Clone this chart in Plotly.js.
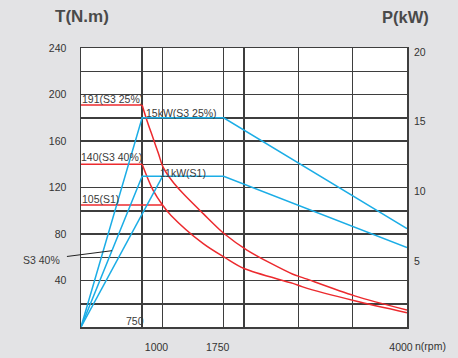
<!DOCTYPE html>
<html>
<head>
<meta charset="utf-8">
<script src="https://cdn.plot.ly/plotly-3.0.1.min.js"></script>
<style>html,body{margin:0;padding:0;background:#e3e3e5;}#chart{width:458px;height:358px;}</style>
</head>
<body>
<div id="chart"></div>
<script>
// ---- data ----
// Torque curves (N.m) vs speed (rpm)
const rpmS325T = [0, 750, 812, 882, 951, 1004, 1114, 1250, 1500, 1762, 2041, 2600, 2720, 3357, 4000];
const torqueS325 = [191, 191, 177, 163, 149, 138, 126, 115, 97.5, 80, 66, 45.4, 42.5, 26.8, 14.6];
const rpmS340T = [0, 750, 882, 1000, 1105, 1500, 1762, 2000, 2600, 2720, 3357, 4000];
const torqueS340 = [140, 140, 118, 105, 96, 71.7, 59.9, 50.3, 37.5, 34.5, 22.5, 12.3];
const rpmS1T = [0, 1000];
const torqueS1 = [105, 105];
// Power curves (kW) vs speed (rpm)
const rpmS325P = [0, 750, 1750, 4000];
const powerS325 = [0, 15, 15, 7.05];
const rpmS340P = [0, 750, 1750, 4000];
const powerS340 = [0, 10.8, 10.8, 5.7];
const rpmS1P = [0, 1000];
const powerS1 = [0, 10.8];
// axis ticks
const xTickVals = [1000, 1750, 4000];
const xTickText = ['1000', '1750', '4000'];
const xGridVals = [750, 2000, 2667, 3333];
const yTickVals = [40, 80, 120, 160, 200, 240];
const yMinorVals = [20, 60, 100, 140, 180, 220];
const y2TickVals = [5, 10, 15, 20];

const RED = '#ec2a2e', CYAN = '#1bade6';
const GRID = '#3e3e3e';
const TXT = '#3a3a3a';

const cyanLine = {color: CYAN, width: 1.5};
const redFlat = {color: RED, width: 1.5};
const redCurve = {color: RED, width: 1.5, shape: 'spline', smoothing: 0.9};

const traces = [
  {x: rpmS325P, y: powerS325, yaxis: 'y2', mode: 'lines', line: cyanLine},
  {x: rpmS340P, y: powerS340, yaxis: 'y2', mode: 'lines', line: cyanLine},
  {x: rpmS1P, y: powerS1, yaxis: 'y2', mode: 'lines', line: cyanLine},
  // flat (constant torque) parts
  {x: rpmS325T.slice(0, 2), y: torqueS325.slice(0, 2), mode: 'lines', line: redFlat},
  {x: rpmS340T.slice(0, 2), y: torqueS340.slice(0, 2), mode: 'lines', line: redFlat},
  {x: rpmS1T, y: torqueS1, mode: 'lines', line: redFlat},
  // falling parts
  {x: rpmS325T.slice(1), y: torqueS325.slice(1), mode: 'lines', line: redCurve},
  {x: rpmS340T.slice(1), y: torqueS340.slice(1), mode: 'lines', line: redCurve}
];

const ann = (text, x, y, extra) => Object.assign({text, x, y, showarrow: false, xanchor: 'left', yanchor: 'middle', font: {size: 10.5, color: TXT}}, extra || {});

const layout = {
  width: 458, height: 358,
  paper_bgcolor: '#e3e3e5', plot_bgcolor: '#ffffff',
  margin: {l: 81, r: 51, t: 48, b: 31, pad: 0},
  showlegend: false,
  font: {family: 'Liberation Sans, Arial, sans-serif', size: 10.5, color: '#333'},
  xaxis: {
    range: [0, 4000], tickmode: 'array', tickvals: xTickVals, ticktext: xTickText,
    showgrid: true, gridcolor: GRID, gridwidth: 1.5,
    minor: {tickmode: 'array', tickvals: xGridVals, showgrid: true, gridcolor: GRID, gridwidth: 1.5, ticks: ''},
    ticks: '', showline: true, mirror: true, linecolor: GRID, linewidth: 1.5, zeroline: false,
    ticklabelstandoff: 10, ticklabelshift: -6, fixedrange: true
  },
  yaxis: {
    range: [0, 240], tickmode: 'array', tickvals: yTickVals,
    showgrid: true, gridcolor: GRID, gridwidth: 1.5,
    minor: {tickmode: 'array', tickvals: yMinorVals, showgrid: true, gridcolor: GRID, gridwidth: 1.5, ticks: ''},
    ticks: '', showline: true, mirror: true, linecolor: GRID, linewidth: 1.5, zeroline: false,
    ticklabelstandoff: 11, fixedrange: true
  },
  yaxis2: {
    overlaying: 'y', side: 'right', range: [0, 20], tickmode: 'array', tickvals: y2TickVals,
    showgrid: false, zeroline: false, showline: false, ticks: '',
    ticklabelstandoff: 6, ticklabelshift: 4, fixedrange: true
  },
  annotations: [
    ann('<b>T(N.m)</b>', 0.003, 1.112, {xref: 'paper', yref: 'paper', xanchor: 'center', font: {size: 17, color: '#4a4a4a'}}),
    ann('<b>P(kW)</b>', 0.994, 1.112, {xref: 'paper', yref: 'paper', xanchor: 'center', font: {size: 16.5, color: '#4a4a4a'}}),
    ann('n(rpm)', 1.072, -0.068, {xref: 'paper', yref: 'paper', xanchor: 'center', font: {size: 10.5, color: '#333'}}),
    ann('750', 750, 0, {xanchor: 'center', xshift: -7, yshift: 6}),
    ann('191(S3 25%)', 0, 196, {xshift: -1}),
    ann('140(S3 40%)', 0, 146.6, {xshift: -2}),
    ann('105(S1)', 0, 109.7, {xshift: -1}),
    ann('15kW(S3 25%)', 800, 184.5, {xshift: -2}),
    ann('11kW(S1)', 975, 132.3, {xshift: -2}),
    {text: 'S3 40%', x: 380, y: 5.47, xref: 'x', yref: 'y2', showarrow: true, arrowhead: 0, arrowwidth: 1, arrowcolor: '#222',
     ax: -70, ay: 9, standoff: 0, startstandoff: 5, font: {size: 10.5, color: TXT}}
  ]
};

Plotly.newPlot('chart', traces, layout, {displayModeBar: false, staticPlot: true});
</script>
</body>
</html>
